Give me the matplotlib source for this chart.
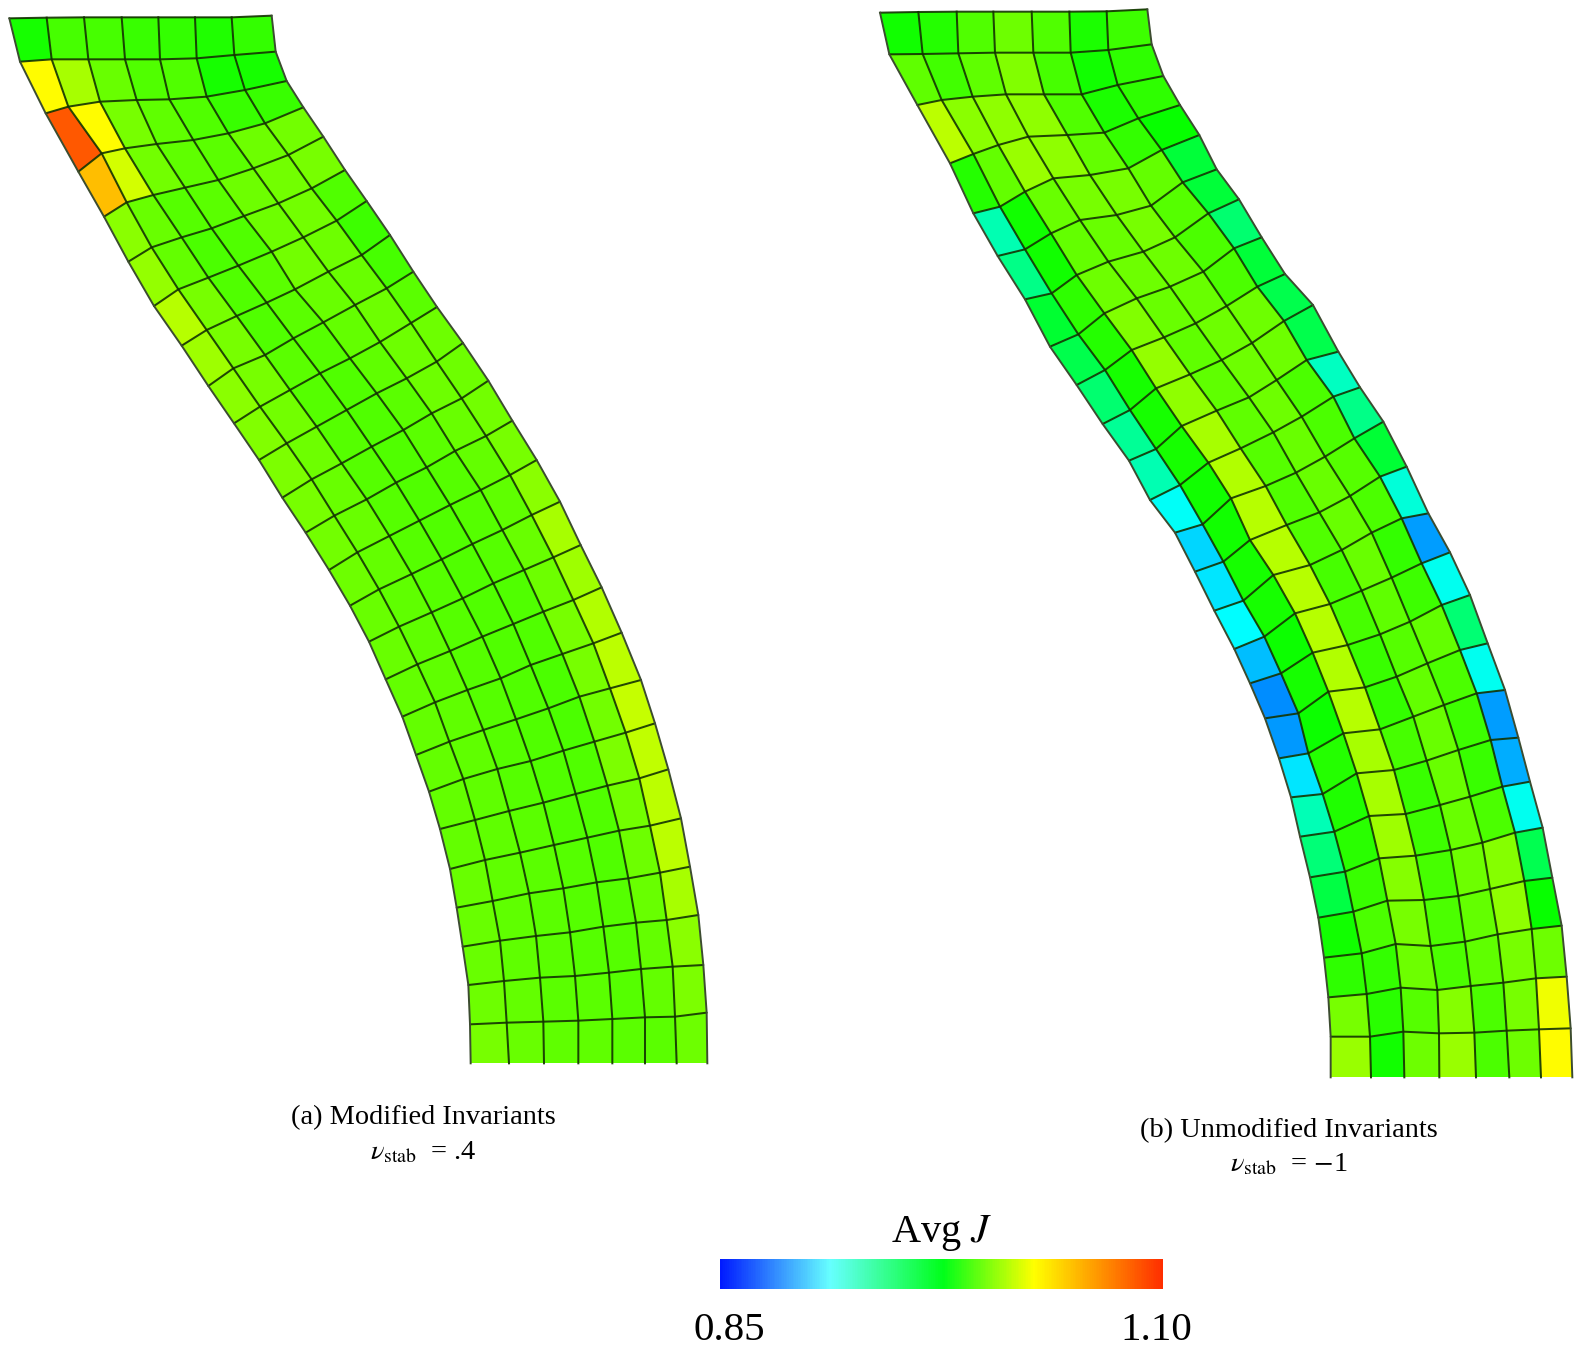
import matplotlib
matplotlib.use('Agg')

import numpy as np
import matplotlib.pyplot as plt
from matplotlib.cm import ScalarMappable
from matplotlib.colors import LinearSegmentedColormap, Normalize

plt.rcParams['font.family'] = ['Liberation Serif', 'DejaVu Serif']
plt.rcParams['mathtext.fontset'] = 'stix'

W, H = 1582, 1351
J_MIN, J_MAX = 0.85, 1.10

mesh_a_top = ((0, 0), [
    [(28,55),(140,53),(252,52),(365,52),(475,52),(585,52),(695,52),(815,47)],
    [(60,185),(155,178),(265,178),(375,178),(480,178),(590,175),(703,165),(827,155)],
    [(137,340),(205,320),(300,305),(410,300),(508,298),(620,290),(735,270),(860,243)],
    [(235,515),(305,460),(375,445),(470,432),(580,420),(685,400),(795,370),(910,322)],
    [(312,650),(380,607),(460,585),(555,563),(655,540),(760,505),(865,465),(970,410)],
    [(385,785),(455,742),(545,712),(635,685),(732,648),(835,610),(935,565),(1035,510)],
    [(462,918),(535,868),(625,833),(715,797),(815,755),(910,712),(1010,662),(1100,603)],
    [(545,1037),(620,990),(710,948),(800,908),(885,868),(985,815),(1085,765),(1170,705)],
    [(625,1158),(700,1105),(795,1065),(880,1015),(970,967),(1065,915),(1160,865),(1240,815)],
])
mesh_a_mid = ((160, 350), [
    [(222,220),(300,170),(390,120),(480,70),(570,25),(660,-24),(753,-81),(831,-129)],
    [(297,330),(380,280),(470,230),(560,180),(650,130),(740,85),(830,35),(909,-21)],
    [(367,443),(455,388),(545,340),(635,290),(730,240),(815,190),(905,145),(985,92)],
    [(437,548),(523,497),(620,448),(708,398),(800,352),(885,303),(978,258),(1057,212)],
    [(507,660),(592,607),(688,558),(778,512),(870,465),(962,420),(1050,375),(1130,330)],
    [(570,767),(657,718),(755,672),(845,628),(937,582),(1027,540),(1115,495),(1200,455)],
    [(627,875),(717,830),(815,787),(908,745),(1000,700),(1092,660),(1180,622),(1262,585)],
    [(677,988),(772,943),(870,903),(967,860),(1060,822),(1150,785),(1240,750),(1325,712)],
    [(727,1100),(825,1057),(922,1020),(1022,985),(1112,945),(1207,912),(1300,880),(1385,848)],
])
mesh_a_bot = ((380, 680), [
    [(108,225),(208,185),(310,150),(408,118),(505,85),(598,50),(690,25),(783,0)],
    [(147,335),(250,297),(352,267),(452,243),(550,212),(643,185),(737,158),(825,130)],
    [(180,447),(285,420),(387,393),(490,368),(587,342),(682,317),(778,295),(865,268)],
    [(210,567),(315,540),(420,518),(522,495),(622,473),(717,452),(810,437),(903,415)],
    [(230,683),(338,663),(447,640),(550,625),(650,607),(745,595),(840,578),(930,560)],
    [(248,800),(360,782),(468,768),(570,757),(670,740),(768,728),(860,720),(955,705)],
    [(265,915),(372,903),(480,893),(585,888),(687,878),(783,867),(878,860),(970,855)],
    [(270,1033),(380,1028),(490,1025),(595,1022),(697,1017),(795,1012),(885,1010),(980,998)],
    [(272,1150),(387,1150),(492,1150),(595,1150),(697,1150),(795,1150),(890,1150),(982,1150)],
])
mesh_b_top = ((860, 0), [
    [(60,38),(175,36),(290,35),(400,35),(515,35),(628,35),(740,34),(862,28)],
    [(88,163),(188,162),(295,160),(405,158),(520,158),(632,158),(745,150),(875,133)],
    [(172,315),(245,300),(338,290),(438,283),(552,283),(665,283),(773,255),(910,228)],
    [(270,490),(340,462),(415,435),(505,410),(622,405),(733,398),(835,355),(960,315)],
    [(340,640),(420,620),(495,575),(580,535),(690,525),(805,505),(905,450),(1018,405)],
    [(413,768),(495,748),(573,700),(660,660),(770,645),(873,617),(968,547),(1070,508)],
    [(495,898),(575,880),(650,825),(745,785),(850,755),(945,712),(1045,640),(1137,598)],
    [(570,1040),(655,1003),(733,940),(830,895),(930,860),(1030,815),(1122,745),(1205,712)],
    [(650,1155),(735,1110),(815,1050),(912,1012),(1007,970),(1100,918),(1192,860),(1275,822)],
])
mesh_b_mid = ((1020, 350), [
    [(248,222),(330,180),(408,115),(510,73),(605,30),(696,-21),(792,-87),(879,-135)],
    [(327,332),(408,297),(485,228),(590,182),(687,142),(770,90),(860,30),(955,5)],
    [(390,450),(480,405),(565,338),(662,295),(760,247),(845,200),(940,140),(1020,112)],
    [(465,548),(548,523),(633,445),(737,408),(828,368),(915,320),(1003,265),(1090,215)],
    [(525,665),(610,635),(690,570),(800,525),(898,487),(990,438),(1080,380),(1160,350)],
    [(583,782),(670,752),(760,675),(870,645),(965,600),(1055,548),(1145,505),(1225,490)],
    [(643,897),(733,860),(825,790),(930,762),(1025,722),(1115,683),(1205,640),(1290,607)],
    [(690,1000),(783,970),(878,908),(983,885),(1080,853),(1170,815),(1265,765),(1350,735)],
    [(735,1105),(835,1090),(925,1025),(1035,1012),(1130,980),(1222,940),(1320,900),(1403,880)],
])
mesh_b_bot = ((1240, 690), [
    [(117,205),(205,190),(310,130),(420,118),(520,80),(612,45),(710,10),(795,0)],
    [(153,322),(248,312),(350,250),(462,240),(560,212),(655,180),(752,150),(835,143)],
    [(180,440),(283,425),(387,378),(497,372),(600,345),(690,320),(787,290),(870,275)],
    [(210,562),(315,545),(417,505),(527,497),(632,480),(727,458),(825,428),(908,413)],
    [(235,683),(340,665),(442,632),(552,630),(655,618),(750,597),(853,573),(937,563)],
    [(252,803),(365,790),(467,762),(572,768),(675,755),(773,733),(875,717),(965,707)],
    [(265,922),(380,912),(482,893),(592,900),(692,888),(790,878),(888,865),(980,860)],
    [(272,1040),(390,1040),(490,1025),(597,1030),(703,1028),(800,1022),(897,1018),(992,1015)],
    [(272,1162),(393,1162),(493,1162),(598,1162),(708,1162),(808,1162),(903,1162),(997,1162)],
])

# average J per element
j_a = [
    [.980,.990,.990,.987,.986,.982,.986],
    [1.028,1.010,.997,.992,.992,.980,.980],
    [1.085,1.028,1.000,.995,.992,.987,.987],
    [1.050,1.018,.999,.995,.994,.998,.999],
    [1.004,.997,.993,.994,.998,.999,1.000],
    [1.006,.996,.991,.992,.998,.999,.992],
    [1.013,1.000,.992,.994,.999,.998,.988],
    [1.008,1.000,.992,.994,.997,.997,.990],
    [1.004,1.000,.994,.993,.996,.998,.994],
    [1.002,.999,.993,.992,.995,.998,.998],
    [1.001,.998,.993,.992,.994,.998,.998],
    [1.000,.997,.993,.992,.994,.997,.999],
    [.999,.997,.993,.992,.993,.996,1.000],
    [.998,.996,.993,.992,.993,.995,1.004],
    [.997,.995,.993,.992,.993,.997,1.010],
    [.997,.995,.993,.992,.992,.998,1.008],
    [.996,.995,.993,.992,.992,1.000,1.012],
    [.996,.995,.993,.992,.991,1.000,1.014],
    [.996,.995,.993,.992,.991,.999,1.016],
    [.996,.995,.993,.992,.992,1.001,1.015],
    [.996,.995,.994,.992,.992,.999,1.014],
    [.997,.995,.994,.993,.992,.998,1.014],
    [.997,.995,.994,.993,.993,.997,1.010],
    [.997,.995,.994,.993,.993,.996,1.004],
    [.998,.996,.994,.994,.993,.996,1.001],
    [1.000,.997,.995,.995,.994,.994,.998],
]
j_b = [
    [.979,.983,.992,.998,.992,.981,.988],
    [.995,.989,.995,1.002,.990,.979,.985],
    [1.014,1.004,1.005,1.005,.992,.981,.985],
    [.983,.996,1.007,1.005,.996,.986,.977],
    [.932,.979,.997,1.000,1.000,.996,.962],
    [.942,.979,.996,.997,1.000,.993,.962],
    [.964,.985,.998,.998,.998,.991,.948],
    [.957,.983,1.002,.997,.997,.991,.962],
    [.948,.980,1.006,.995,.998,.998,.957],
    [.938,.980,1.005,.995,.998,.998,.957],
    [.932,.980,1.010,.995,.998,.991,.928],
    [.914,.979,1.012,.993,.997,.991,.942],
    [.902,.979,1.013,.992,.997,.993,.963],
    [.906,.980,1.013,.992,.997,.991,.922],
    [.912,.980,1.013,.990,.997,.986,.889],
    [.896,.978,1.013,.990,.995,.988,.916],
    [.885,.980,1.012,.987,.993,.996,.947],
    [.888,.978,1.013,.986,.996,.991,.916],
    [.906,.983,1.010,.990,.997,.988,.889],
    [.931,.982,1.010,.987,.997,.987,.892],
    [.946,.984,1.008,.988,.997,.991,.916],
    [.959,.987,1.003,.990,.998,1.003,.956],
    [.979,.991,1.000,.991,.996,1.005,.977],
    [.985,.986,.998,.991,.995,1.000,.998],
    [1.000,.984,.993,1.003,.991,1.000,1.024],
    [1.007,.979,.998,1.007,.991,.998,1.028],
]

mesh_colors = [(0, 0, 1), (0, 1, 1), (0, 1, 0), (1, 1, 0), (1, .18, 0)]
bar_colors = [(0, .1, 1), (.4, 1, 1), (0, 1, .1), (1, 1, 0), (1, .18, 0)]
color_stops = [0, .248, .504, .71, 1]

cmap_mesh = LinearSegmentedColormap.from_list('mesh', list(zip(color_stops, mesh_colors)))
cmap_bar = LinearSegmentedColormap.from_list('bar', list(zip(color_stops, bar_colors)))
norm = Normalize(J_MIN, J_MAX)


def nodes(*blocks):
    # crops are 3x, go back to image pixels
    rows = []
    for origin, block in blocks:
        rows.append(np.array(origin) + np.array(block) / 3.0)
    grid = np.concatenate(rows)
    return grid[:, :, 0], grid[:, :, 1]


def draw_mesh(ax, x, y, values):
    ax.pcolormesh(x, y, np.array(values), cmap=cmap_mesh, norm=norm, shading='flat',
                  edgecolors='none', antialiased=True, linewidth=0)
    # no line along the clamped bottom edge
    ax.plot(x[:-1].T, y[:-1].T, color='#123200', lw=1.45, alpha=.9, solid_capstyle='round')
    ax.plot(x[:, 1:-1], y[:, 1:-1], color='#123200', lw=1.45, alpha=.9)
    ax.plot(x[:, [0, -1]], y[:, [0, -1]], color='#3c4c30', lw=1.4)


fig = plt.figure(figsize=(W / 100, H / 100), dpi=100, facecolor='white')
ax = fig.add_axes([0, 0, 1, 1])
ax.set_xlim(0, W)
ax.set_ylim(H, 0)
ax.axis('off')

xa, ya = nodes(mesh_a_top, mesh_a_mid, mesh_a_bot)
xb, yb = nodes(mesh_b_top, mesh_b_mid, mesh_b_bot)
draw_mesh(ax, xa, ya, j_a)
draw_mesh(ax, xb, yb, j_b)

ax.text(423, 1118, '(a) Modified Invariants', ha='center', va='center', fontsize=20.4)
ax.text(423, 1153, r'$\nu_{\mathrm{stab}}$  = .4', ha='center', va='center', fontsize=20.4)
ax.text(1289, 1131, '(b) Unmodified Invariants', ha='center', va='center', fontsize=20.4)
ax.text(1289, 1165, r'$\nu_{\mathrm{stab}}$  = $-$1', ha='center', va='center', fontsize=20.4)

# colour bar
cax = fig.add_axes([720 / W, 1 - 1289 / H, 443 / W, 30 / H])
cb = fig.colorbar(ScalarMappable(norm=norm, cmap=cmap_bar), cax=cax, orientation='horizontal')
cb.set_ticks([])
cb.outline.set_visible(False)

ax.text(942, 1233, r'Avg $\mathit{J}$', ha='center', va='center', fontsize=29)
ax.text(729, 1331, '0.85', ha='center', va='center', fontsize=29.5)
ax.text(1156, 1331, '1.10', ha='center', va='center', fontsize=29.5)

fig.savefig('out.png', dpi=100, facecolor='white')
